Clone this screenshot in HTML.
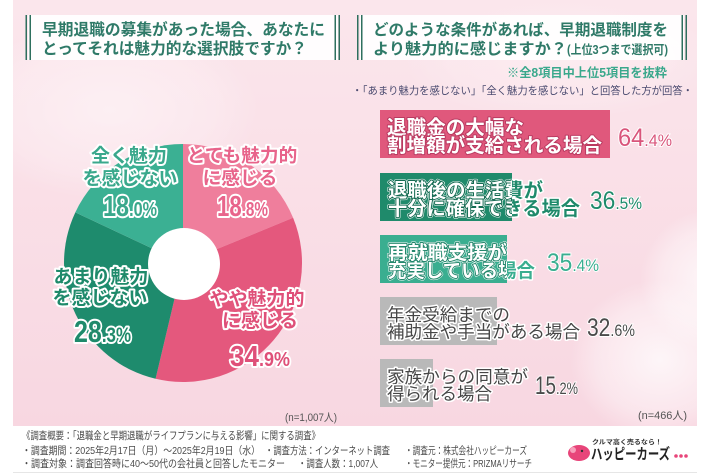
<!DOCTYPE html>
<html><head><meta charset="utf-8"><style>
html,body{margin:0;padding:0;background:#fff;}
svg{display:block;}
text{font-family:"Liberation Sans","Noto Sans CJK JP",sans-serif;}
.n{font-family:"Liberation Sans Narrow","Liberation Sans","Noto Sans CJK JP",sans-serif;}
</style></head><body>
<svg width="710" height="474" viewBox="0 0 710 474" xmlns="http://www.w3.org/2000/svg">
<defs>
  <linearGradient id="bg" x1="0" y1="0" x2="0" y2="1">
    <stop offset="0" stop-color="#fbe6ec"/>
    <stop offset="1" stop-color="#f8d7e1"/>
  </linearGradient>
  <radialGradient id="blob" cx="0.5" cy="0.5" r="0.5">
    <stop offset="0" stop-color="#ffffff" stop-opacity="0.75"/>
    <stop offset="0.7" stop-color="#ffffff" stop-opacity="0.35"/>
    <stop offset="1" stop-color="#ffffff" stop-opacity="0"/>
  </radialGradient>
  <clipPath id="c1"><rect x="380" y="110" width="230" height="48"/></clipPath>
  <clipPath id="c2"><rect x="380" y="173" width="132" height="48"/></clipPath>
  <clipPath id="c3"><rect x="380" y="235" width="127" height="48"/></clipPath>
  <clipPath id="pinkarea"><rect x="13" y="0" width="684" height="426"/></clipPath>
</defs>

<!-- background -->
<rect x="13" y="0" width="684" height="426" fill="url(#bg)"/>
<g clip-path="url(#pinkarea)">
  <ellipse cx="110" cy="110" rx="150" ry="90" fill="url(#blob)" opacity="0.6"/>
  <ellipse cx="660" cy="360" rx="90" ry="80" fill="url(#blob)"/>
  <ellipse cx="710" cy="280" rx="70" ry="70" fill="url(#blob)"/>
  <ellipse cx="560" cy="60" rx="160" ry="60" fill="url(#blob)" opacity="0.4"/>
</g>

<!-- left header -->
<rect x="28" y="15" width="310" height="45" fill="#ffffff" opacity="0.92"/>
<rect x="25.5" y="15" width="1.5" height="45" fill="#2e6f5e"/>
<rect x="29.5" y="15" width="1.5" height="45" fill="#2e6f5e"/>
<rect x="334.5" y="15" width="1.5" height="45" fill="#2e6f5e"/>
<rect x="338.5" y="15" width="1.5" height="45" fill="#2e6f5e"/>
<text x="42" y="35" font-size="15.7" font-weight="bold" fill="#2f7a68" textLength="283" lengthAdjust="spacingAndGlyphs">早期退職の募集があった場合、あなたに</text>
<text x="42" y="54" font-size="15.7" font-weight="bold" fill="#2f7a68" textLength="265" lengthAdjust="spacingAndGlyphs">とってそれは魅力的な選択肢ですか？</text>

<!-- right header -->
<rect x="360" y="15" width="324" height="45" fill="#ffffff" opacity="0.92"/>
<rect x="357" y="15" width="1.5" height="45" fill="#2e6f5e"/>
<rect x="361" y="15" width="1.5" height="45" fill="#2e6f5e"/>
<rect x="681.5" y="15" width="1.5" height="45" fill="#2e6f5e"/>
<rect x="685.5" y="15" width="1.5" height="45" fill="#2e6f5e"/>
<text x="373" y="35" font-size="15.5" font-weight="bold" fill="#2f7a68" textLength="295" lengthAdjust="spacingAndGlyphs">どのような条件があれば、早期退職制度を</text>
<text x="373" y="54" font-size="15.5" font-weight="bold" fill="#2f7a68" textLength="194" lengthAdjust="spacingAndGlyphs">より魅力的に感じますか？</text>
<text x="567" y="54" font-size="12.5" font-weight="bold" fill="#2f7a68" textLength="101" lengthAdjust="spacingAndGlyphs">(上位3つまで選択可)</text>

<text x="667" y="77" font-size="12.5" text-anchor="end" fill="#3aa88c" font-weight="bold" textLength="160" lengthAdjust="spacingAndGlyphs">※全8項目中上位5項目を抜粋</text>
<text x="352" y="94" font-size="10.5" fill="#4b4b70" textLength="341" lengthAdjust="spacingAndGlyphs">・「あまり魅力を感じない」「全く魅力を感じない」と回答した方が回答・</text>

<!-- pie -->
<g>
  <path d="M183,263 L183,144 A119,119 0 0 1 293.09,217.8 Z" fill="#ef7e9c"/>
  <path d="M183,263 L293.09,217.8 A119,119 0 0 1 155.58,378.8 Z" fill="#e4587d"/>
  <path d="M183,263 L155.58,378.8 A119,119 0 0 1 75.33,212.33 Z" fill="#1e8b6d"/>
  <path d="M183,263 L75.33,212.33 A119,119 0 0 1 183,144 Z" fill="#3bb093"/>
  <circle cx="184" cy="264" r="36" fill="#ffffff"/>
</g>

<!-- pie labels -->
<g font-weight="bold" stroke="#ffffff" stroke-width="4" paint-order="stroke" stroke-linejoin="round">
  <text x="129" y="162" font-size="19" fill="#3aa88c" text-anchor="middle">全く魅力</text>
  <text x="130" y="184.5" font-size="19" fill="#3aa88c" text-anchor="middle">を感じない</text>
  <text x="103" y="216" class="n" fill="#3aa88c" textLength="54" lengthAdjust="spacingAndGlyphs"><tspan font-size="29">18</tspan><tspan font-size="20">.0%</tspan></text>

  <text x="242" y="162" font-size="18.7" fill="#e8648b" text-anchor="middle">とても魅力的</text>
  <text x="240" y="184.5" font-size="18.7" fill="#e8648b" text-anchor="middle">に感じる</text>
  <text x="217" y="216" class="n" fill="#e8648b" textLength="51" lengthAdjust="spacingAndGlyphs"><tspan font-size="29">18</tspan><tspan font-size="20">.8%</tspan></text>

  <text x="101" y="283" font-size="19" fill="#1f8a6b" text-anchor="middle">あまり魅力</text>
  <text x="100" y="304" font-size="19" fill="#1f8a6b" text-anchor="middle">を感じない</text>
  <text x="74" y="342" class="n" fill="#1f8a6b" textLength="57" lengthAdjust="spacingAndGlyphs"><tspan font-size="31">28</tspan><tspan font-size="21">.3%</tspan></text>

  <text x="257" y="305" font-size="19" fill="#df5079" text-anchor="middle">やや魅力的</text>
  <text x="260" y="327" font-size="19" fill="#df5079" text-anchor="middle">に感じる</text>
  <text x="230" y="366" class="n" fill="#df5079" textLength="60" lengthAdjust="spacingAndGlyphs"><tspan font-size="29">34</tspan><tspan font-size="20">.9%</tspan></text>
</g>

<text x="337" y="421" font-size="11" fill="#555" text-anchor="end" textLength="52" lengthAdjust="spacingAndGlyphs">(n=1,007人)</text>

<!-- bars -->
<rect x="380" y="110" width="230" height="48" fill="#e0587c"/>
<rect x="380" y="173" width="132" height="48" fill="#1f8a6b"/>
<rect x="380" y="235" width="127" height="48" fill="#3aae90"/>
<rect x="380" y="297" width="117" height="48" fill="#b9b9b9"/>
<rect x="380" y="359" width="53" height="48" fill="#b9b9b9"/>

<g font-weight="bold" stroke-linejoin="round" paint-order="stroke">
  <!-- bar1 -->
  <g fill="#ffffff" stroke="#b93a60" stroke-width="2">
    <text x="387" y="134" font-size="19.5" textLength="137" lengthAdjust="spacingAndGlyphs">退職金の大幅な</text>
    <text x="387" y="152" font-size="19.5" textLength="215" lengthAdjust="spacingAndGlyphs">割増額が支給される場合</text>
  </g>
  <!-- bar2 -->
  <g fill="#1f8a6b" stroke="#ffffff" stroke-width="3">
    <text x="388" y="197" font-size="19.3" textLength="155" lengthAdjust="spacingAndGlyphs">退職後の生活費が</text>
    <text x="388" y="215" font-size="19.3" textLength="192" lengthAdjust="spacingAndGlyphs">十分に確保できる場合</text>
  </g>
  <g fill="#ffffff" stroke="#146b52" stroke-width="2" clip-path="url(#c2)">
    <text x="388" y="197" font-size="19.3" textLength="155" lengthAdjust="spacingAndGlyphs">退職後の生活費が</text>
    <text x="388" y="215" font-size="19.3" textLength="192" lengthAdjust="spacingAndGlyphs">十分に確保できる場合</text>
  </g>
  <!-- bar3 -->
  <g fill="#3aae90" stroke="#ffffff" stroke-width="3">
    <text x="388" y="259" font-size="19" textLength="119" lengthAdjust="spacingAndGlyphs">再就職支援が</text>
    <text x="388" y="277" font-size="19" textLength="147" lengthAdjust="spacingAndGlyphs">充実している場合</text>
  </g>
  <g fill="#ffffff" stroke="#23876c" stroke-width="2" clip-path="url(#c3)">
    <text x="388" y="259" font-size="19" textLength="119" lengthAdjust="spacingAndGlyphs">再就職支援が</text>
    <text x="388" y="277" font-size="19" textLength="147" lengthAdjust="spacingAndGlyphs">充実している場合</text>
  </g>
  <!-- bar4/5 -->
  <g fill="#464646" stroke="#ffffff" stroke-width="3" font-weight="normal">
    <text x="387" y="321" font-size="17.5" textLength="123" lengthAdjust="spacingAndGlyphs">年金受給までの</text>
    <text x="387" y="338" font-size="17.5" textLength="193" lengthAdjust="spacingAndGlyphs">補助金や手当がある場合</text>
    <text x="387" y="383" font-size="17.5" textLength="141" lengthAdjust="spacingAndGlyphs">家族からの同意が</text>
    <text x="387" y="400" font-size="17.5" textLength="105" lengthAdjust="spacingAndGlyphs">得られる場合</text>
  </g>
</g>

<!-- values -->
<g class="n" stroke="#ffffff" stroke-width="2" paint-order="stroke">
  <text x="618" y="146" class="n" fill="#d9557b" textLength="54" lengthAdjust="spacingAndGlyphs"><tspan font-size="25">64</tspan><tspan font-size="17">.4%</tspan></text>
  <text x="590" y="209" class="n" fill="#1f8a6b" textLength="52" lengthAdjust="spacingAndGlyphs"><tspan font-size="25">36</tspan><tspan font-size="17">.5%</tspan></text>
  <text x="547" y="271" class="n" fill="#3aae90" textLength="52" lengthAdjust="spacingAndGlyphs"><tspan font-size="25">35</tspan><tspan font-size="17">.4%</tspan></text>
  <text x="587" y="336" class="n" fill="#4a4a4a" textLength="48" lengthAdjust="spacingAndGlyphs"><tspan font-size="25">32</tspan><tspan font-size="17">.6%</tspan></text>
  <text x="535" y="394" class="n" fill="#4a4a4a" textLength="43" lengthAdjust="spacingAndGlyphs"><tspan font-size="25">15</tspan><tspan font-size="17">.2%</tspan></text>
</g>

<text x="687" y="419" font-size="11" fill="#555" text-anchor="end" textLength="49" lengthAdjust="spacingAndGlyphs">(n=466人)</text>

<!-- footer -->
<g font-size="10.5" fill="#4a4a4a">
  <text x="22" y="439" textLength="298" lengthAdjust="spacingAndGlyphs">《調査概要：「退職金と早期退職がライフプランに与える影響」に関する調査》</text>
  <text x="22" y="454" textLength="238" lengthAdjust="spacingAndGlyphs">・調査期間：2025年2月17日（月）～2025年2月19日（水）</text>
  <text x="265" y="454" textLength="125" lengthAdjust="spacingAndGlyphs">・調査方法：インターネット調査</text>
  <text x="405" y="454" textLength="122" lengthAdjust="spacingAndGlyphs">・調査元：株式会社ハッピーカーズ</text>
  <text x="22" y="467" textLength="263" lengthAdjust="spacingAndGlyphs">・調査対象：調査回答時に40～50代の会社員と回答したモニター</text>
  <text x="298" y="467" textLength="80" lengthAdjust="spacingAndGlyphs">・調査人数：1,007人</text>
  <text x="405" y="467" textLength="127" lengthAdjust="spacingAndGlyphs">・モニター提供元：PRIZMAリサーチ</text>
</g>

<!-- logo -->
<g>
  <ellipse cx="579" cy="453" rx="11" ry="8" fill="#e8457a"/>
  <circle cx="573" cy="450" r="3" fill="#f7a0bb"/>
  <circle cx="582" cy="451" r="1.2" fill="#333"/>
  <text x="592" y="444" font-size="6.5" fill="#333" font-weight="bold" textLength="70" lengthAdjust="spacingAndGlyphs">クルマ高く売るなら！</text>
  <text x="591" y="459" font-size="15" font-weight="bold" fill="#222" textLength="79" lengthAdjust="spacingAndGlyphs">ハッピーカーズ</text>
  <circle cx="676" cy="456" r="1.8" fill="#e8457a"/>
  <circle cx="681" cy="456" r="1.8" fill="#e8457a"/>
  <circle cx="686" cy="456" r="1.8" fill="#e8457a"/>
</g>
<rect x="13" y="472" width="684" height="1" fill="#e6e6e6"/>
</svg>
</body></html>
